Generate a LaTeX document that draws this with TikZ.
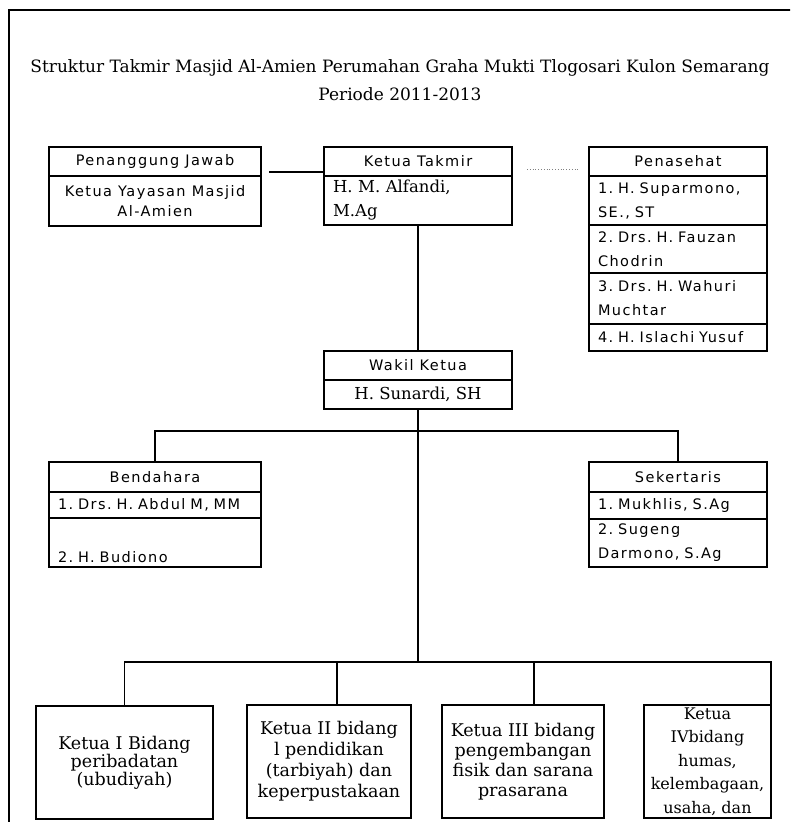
\documentclass[tikz,border=0pt]{standalone}
\usepackage{fontspec}
\setmainfont{DejaVu Serif}
\newfontfamily\boxsans[LetterSpace=10]{DejaVu Sans}
\usetikzlibrary{positioning,calc}

\newcommand\titlefont{\fontsize{17}{28}\selectfont}
\newcommand\hdrfont{\boxsans\fontsize{14.5}{20}\selectfont}
\newcommand\listfont{\boxsans\fontsize{14.5}{24}\selectfont}
\newcommand\namefont{\fontsize{16.5}{24}\selectfont}
\frenchspacing

\begin{document}
\begin{tikzpicture}[
  x=1pt, y=-1pt,
  cell/.style={draw, line width=1.4pt, inner sep=0pt, outer sep=0pt},
  hdr/.style={cell, minimum height=29pt, font=\hdrfont},
  crow/.style={cell, align=center, font=\hdrfont},
  lrow/.style={cell, align=left, inner xsep=9pt, font=\listfont},
  bidang/.style={cell, align=center, minimum height=113pt},
  conn/.style={line width=1.4pt}
]
\useasboundingbox (0,0) rectangle (790,822);
\clip (0,0) rectangle (790,822);
\draw[conn] (9,840) -- (9,10) -- (800,10);

\node[font=\titlefont, align=center] (judul) at (400,80)
  {Struktur Takmir Masjid Al-Amien Perumahan Graha Mukti Tlogosari Kulon Semarang\\Periode 2011-2013};

% baris atas
\node[hdr, minimum width=212pt, anchor=north west] (pjh) at (49,147) {Penanggung Jawab};
\node[crow, minimum width=212pt, minimum height=50pt, below=0pt of pjh] (pjr) {Ketua Yayasan Masjid\\Al-Amien};

\node[hdr, minimum width=188pt, anchor=north west] (kth) at (324,147) {Ketua Takmir};
\node[lrow, font=\namefont, text width=170pt, minimum height=49pt, below=0pt of kth] (ktr) {H. M. Alfandi,\\M.Ag};

\node[hdr, minimum width=178pt, anchor=north west] (pnh) at (589,147) {Penasehat};
\node[lrow, text width=160pt, minimum height=49pt, below=0pt of pnh] (pn1) {1. H. Suparmono,\\SE., ST};
\node[lrow, text width=160pt, minimum height=48pt, below=0pt of pn1] (pn2) {2. Drs. H. Fauzan\\Chodrin};
\node[lrow, text width=160pt, minimum height=51pt, below=0pt of pn2] (pn3) {3. Drs. H. Wahuri\\Muchtar};
\node[lrow, text width=160pt, minimum height=27pt, below=0pt of pn3] (pn4) {4. H. Islachi Yusuf};

% wakil
\node[hdr, minimum width=188pt, anchor=north west] (wkh) at (324,351) {Wakil Ketua};
\node[cell, font=\namefont, minimum width=188pt, minimum height=29pt, below=0pt of wkh] (wkr) {H. Sunardi, SH};

% bendahara, sekertaris
\node[hdr, minimum width=212pt, minimum height=30pt, anchor=north west] (bdh) at (49,462) {Bendahara};
\node[lrow, text width=194pt, minimum height=26pt, below=0pt of bdh] (bd1) {1. Drs. H. Abdul M, MM};
\node[lrow, text width=194pt, minimum height=49pt, below=0pt of bd1] (bd2) {\strut\\2. H. Budiono};

\node[hdr, minimum width=178pt, minimum height=30pt, anchor=north west] (skh) at (589,462) {Sekertaris};
\node[lrow, text width=160pt, minimum height=27pt, below=0pt of skh] (sk1) {1. Mukhlis, S.Ag};
\node[lrow, text width=160pt, minimum height=48pt, below=0pt of sk1] (sk2) {2. Sugeng\\Darmono, S.Ag};

% bidang
\node[bidang, minimum width=177pt, font=\fontsize{17.5}{18}\selectfont, anchor=north west] (b1) at (36,706)
  {Ketua I Bidang\\peribadatan\\(ubudiyah)};
\node[bidang, minimum width=164pt, font=\fontsize{17.5}{21}\selectfont, anchor=north west] (b2) at (247,705)
  {Ketua II bidang\\l pendidikan\\(tarbiyah) dan\\keperpustakaan};
\node[bidang, minimum width=162pt, font=\fontsize{17.5}{20}\selectfont, anchor=north west] (b3) at (442,705)
  {Ketua III bidang\\pengembangan\\fisik dan sarana\\prasarana};
\node[bidang, minimum width=127pt, font=\fontsize{16}{23.5}\selectfont, anchor=north west] (b4) at (644,705)
  {Ketua\\IVbidang\\humas,\\kelembagaan,\\usaha, dan};

\coordinate (bus1) at (418,431);
\coordinate (bus2) at (418,662);

\draw[conn] ([xshift=8pt,yshift=4pt]pjh.south east) -- ([yshift=4pt]kth.south west);
\draw[line width=0.8pt, dotted, gray] ([xshift=15pt,yshift=7pt]kth.south east) -- ([xshift=-11pt,yshift=7pt]pnh.south west);
\draw[conn] (ktr.south) -- (wkh.north);
\draw[conn] (wkr.south) -- (bus2);
\draw[conn] (bdh.north) |- (bus1) -| (skh.north);
\draw[conn] (b1.north) |- (bus2) -| (b4.north east);
\draw[conn] ([xshift=8pt]b2.north) -- ([xshift=8pt]b2.north |- bus2);
\draw[conn] ([xshift=11pt]b3.north) -- ([xshift=11pt]b3.north |- bus2);
\end{tikzpicture}
\end{document}
